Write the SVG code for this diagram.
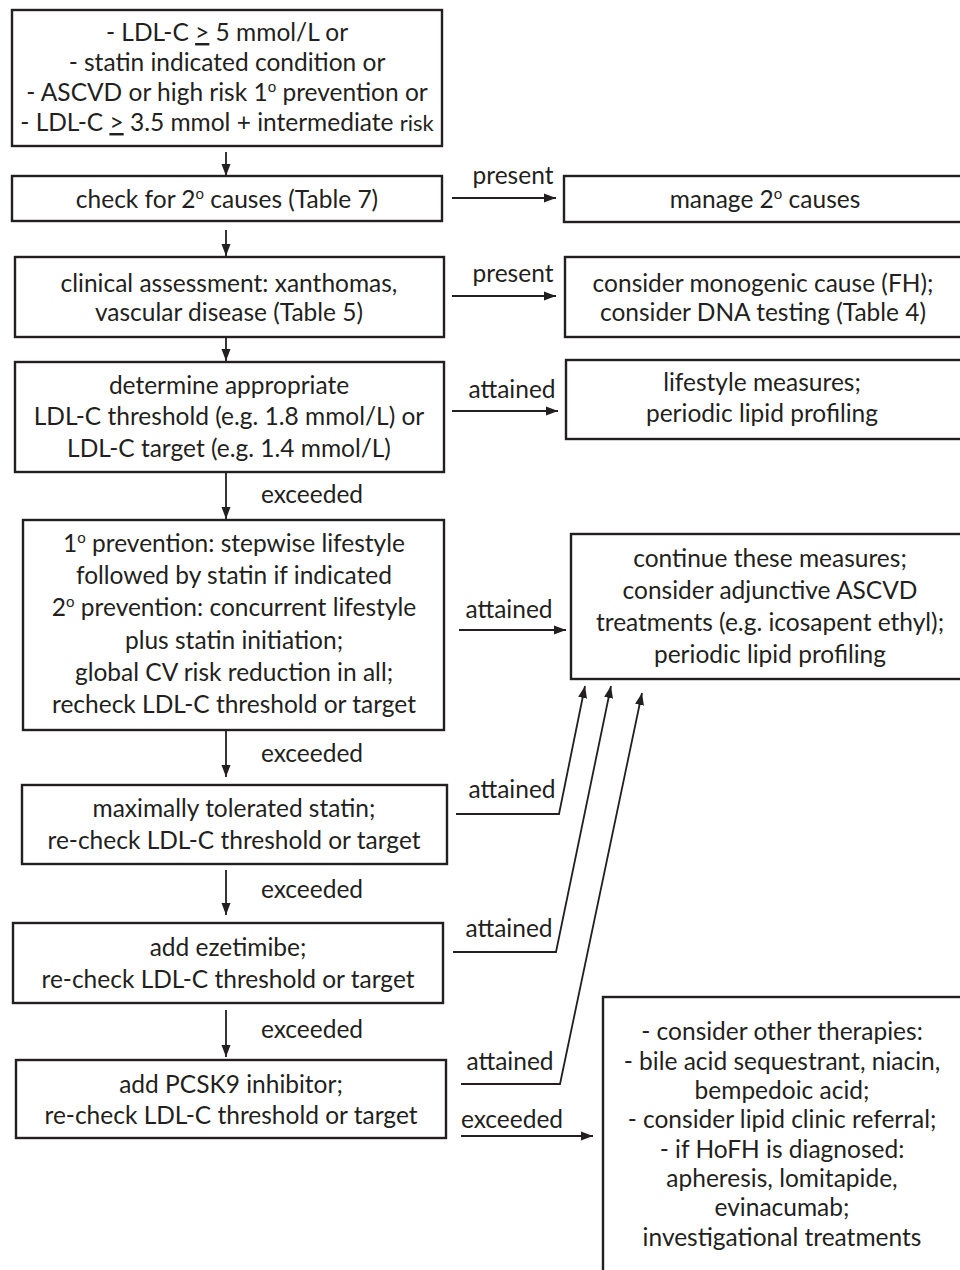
<svg xmlns="http://www.w3.org/2000/svg" width="960" height="1270" viewBox="0 0 960 1270">
<style>
rect{fill:#fff;stroke:#231f20;stroke-width:2.4}
text{font-family:Lato,"Liberation Sans",sans-serif;font-size:24.5px;fill:#231f20;text-anchor:middle}
.c line,.c polyline{stroke:#231f20;stroke-width:1.8;fill:none}
.a{marker-end:url(#ah)}
</style>
<defs>
<marker id="ah" viewBox="0 0 12 10" refX="12" refY="5" markerWidth="12" markerHeight="10" markerUnits="userSpaceOnUse" orient="auto">
<path d="M0,0.5 L12,5 L0,9.5 Z" fill="#231f20"/>
</marker>
</defs>
<rect x="0" y="0" width="960" height="1270" style="stroke:none"/>
<g id="n1"><rect x="12" y="10" width="430" height="136"/>
<text x="227" y="41">- LDL-C <tspan text-decoration="underline">&gt;</tspan> 5 mmol/L or</text>
<text x="227" y="71">- statin indicated condition or</text>
<text x="227" y="101">- ASCVD or high risk 1<tspan dy="-9" font-size="15">o</tspan><tspan dy="9"> prevention or</tspan></text>
<text x="227" y="131">- LDL-C <tspan text-decoration="underline">&gt;</tspan> 3.5 mmol + intermediate <tspan font-size="22">risk</tspan></text></g>
<g id="n2"><rect x="12" y="176" width="430" height="45"/>
<text x="227" y="208">check for 2<tspan dy="-9" font-size="15">o</tspan><tspan dy="9"> causes (Table 7)</tspan></text></g>
<g id="n3"><rect x="564" y="176" width="400" height="46"/>
<text x="765" y="208">manage 2<tspan dy="-9" font-size="15">o</tspan><tspan dy="9"> causes</tspan></text></g>
<g id="n4"><rect x="15" y="257" width="429" height="80"/>
<text x="229" y="292">clinical assessment: xanthomas,</text>
<text x="229" y="321">vascular disease (Table 5)</text></g>
<g id="n5"><rect x="565" y="257" width="399" height="80"/>
<text x="763" y="292">consider monogenic cause (FH);</text>
<text x="763" y="321">consider DNA testing (Table 4)</text></g>
<g id="n6"><rect x="15" y="362" width="429" height="110"/>
<text x="229" y="394">determine appropriate</text>
<text x="229" y="425">LDL-C threshold (e.g. 1.8 mmol/L) or</text>
<text x="229" y="457">LDL-C target (e.g. 1.4 mmol/L)</text></g>
<g id="n7"><rect x="566" y="360" width="398" height="79"/>
<text x="762" y="391">lifestyle measures;</text>
<text x="762" y="422">periodic lipid profiling</text></g>
<g id="n8"><rect x="23" y="520" width="421" height="210"/>
<text x="234" y="552">1<tspan dy="-9" font-size="15">o</tspan><tspan dy="9"> prevention: stepwise lifestyle</tspan></text>
<text x="234" y="584">followed by statin if indicated</text>
<text x="234" y="616">2<tspan dy="-9" font-size="15">o</tspan><tspan dy="9"> prevention: concurrent lifestyle</tspan></text>
<text x="234" y="649">plus statin initiation;</text>
<text x="234" y="681">global CV risk reduction in all;</text>
<text x="234" y="713">recheck LDL-C threshold or target</text></g>
<g id="n9"><rect x="571" y="534" width="393" height="145"/>
<text x="770" y="567">continue these measures;</text>
<text x="770" y="599">consider adjunctive ASCVD</text>
<text x="770" y="631">treatments (e.g. icosapent ethyl);</text>
<text x="770" y="663">periodic lipid profiling</text></g>
<g id="n10"><rect x="22" y="785" width="425" height="79"/>
<text x="234" y="817">maximally tolerated statin;</text>
<text x="234" y="849">re-check LDL-C threshold or target</text></g>
<g id="n11"><rect x="13" y="923" width="430" height="80"/>
<text x="228" y="956">add ezetimibe;</text>
<text x="228" y="988">re-check LDL-C threshold or target</text></g>
<g id="n12"><rect x="16" y="1060" width="430" height="78"/>
<text x="231" y="1093">add PCSK9 inhibitor;</text>
<text x="231" y="1124">re-check LDL-C threshold or target</text></g>
<g id="n13"><rect x="603" y="997" width="361" height="280"/>
<text x="782" y="1040">- consider other therapies:</text>
<text x="782" y="1070">- bile acid sequestrant, niacin,</text>
<text x="782" y="1099">bempedoic acid;</text>
<text x="782" y="1128">- consider lipid clinic referral;</text>
<text x="782" y="1158">- if HoFH is diagnosed:</text>
<text x="782" y="1187">apheresis, lomitapide,</text>
<text x="782" y="1216">evinacumab;</text>
<text x="782" y="1246">investigational treatments</text></g>
<g id="connectors" class="c">
<line class="a" x1="226" y1="152" x2="226" y2="176"/>
<line class="a" x1="226" y1="230" x2="226" y2="256"/>
<line class="a" x1="226" y1="337" x2="226" y2="361"/>
<line class="a" x1="226" y1="472" x2="226" y2="519"/>
<line class="a" x1="226" y1="730" x2="226" y2="777"/>
<line class="a" x1="226" y1="870" x2="226" y2="915"/>
<line class="a" x1="226" y1="1010" x2="226" y2="1057"/>
<line class="a" x1="452" y1="198" x2="556" y2="198"/>
<line class="a" x1="452" y1="296" x2="556" y2="296"/>
<line class="a" x1="452" y1="411" x2="558" y2="411"/>
<line class="a" x1="459" y1="630" x2="566" y2="630"/>
<polyline class="a" points="456,814 559,814 585,686"/>
<polyline class="a" points="453,952 556,952 611,686"/>
<polyline class="a" points="461,1084 560,1084 642,693"/>
<line class="a" x1="461" y1="1136" x2="593" y2="1136"/>
</g>
<g id="labels">
<text x="513" y="184">present</text>
<text x="513" y="282">present</text>
<text x="512" y="398">attained</text>
<text x="509" y="618">attained</text>
<text x="512" y="798">attained</text>
<text x="509" y="937">attained</text>
<text x="510" y="1070">attained</text>
<text x="512" y="1128">exceeded</text>
<text x="312" y="503">exceeded</text>
<text x="312" y="762">exceeded</text>
<text x="312" y="898">exceeded</text>
<text x="312" y="1038">exceeded</text>
</g>
</svg>
